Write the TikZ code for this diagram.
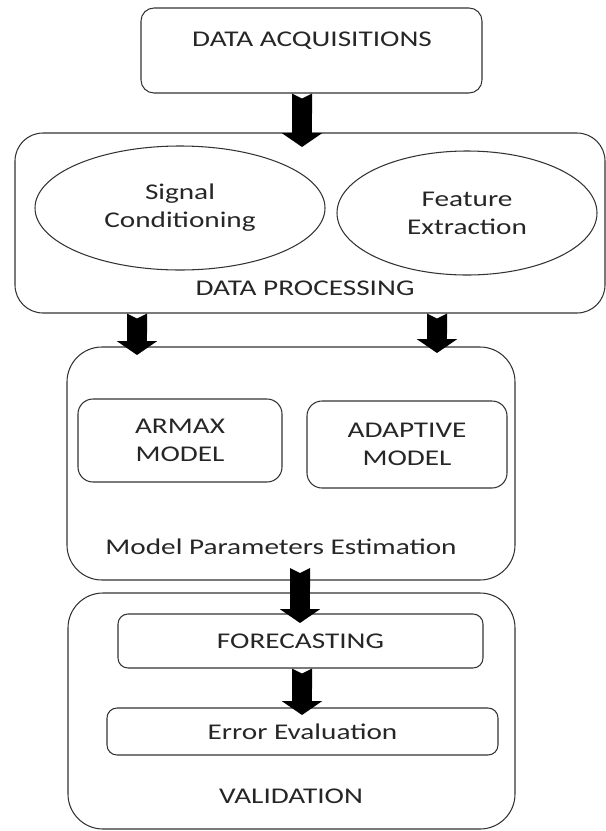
\documentclass[tikz,border=0pt]{standalone}
\usepackage{fontspec}
\setmainfont{Carlito}[FakeStretch=1.3]
\usepackage{tikz}
\usetikzlibrary{shapes.geometric}
\usetikzlibrary{arrows.meta}
\tikzset{block/.style={draw=black!80, line width=0.6pt, rounded corners=#1, inner sep=0pt}, block/.default={0.26cm}}
\tikzset{oval/.style={draw=black!80, line width=0.6pt, ellipse, inner sep=0pt}}
\tikzset{lbl/.style={text=black!85, align=center, font=\fontsize{12.8}{16}\selectfont}}
\tikzset{bigarrow/.style={line width=0.4cm, {Triangle Cap[reversed,length=0.1cm]}-{Triangle[width=0.8cm,length=0.28cm]}}}

\begin{document}
\begin{tikzpicture}
                \useasboundingbox (0,0) rectangle (12.12,-16.62);
                % acquisition
                \node[block, lbl, minimum width=6.82cm, minimum height=1.70cm] (acq) at (6.23,-1.01) {};
                \node[lbl] (acqtxt) at (6.24,-0.82) {DATA ACQUISITIONS};
                % processing
                \node[block=0.56cm, minimum width=11.80cm, minimum height=3.60cm] (proc) at (6.20,-4.46) {};
                \node[oval, lbl, minimum width=5.80cm, minimum height=2.48cm] (sig) at (3.60,-4.16) {Signal\\Conditioning};
                \node[oval, lbl, minimum width=5.20cm, minimum height=2.48cm] (feat) at (9.34,-4.26) {Feature\\Extraction};
                \node[lbl] (proctxt) at (6.10,-5.76) {DATA PROCESSING};
                % models
                \node[block=0.7cm, minimum width=8.96cm, minimum height=4.66cm] (model) at (5.82,-9.27) {};
                \node[block=0.3cm, lbl, minimum width=4.08cm, minimum height=1.66cm] (armax) at (3.60,-8.81) {ARMAX\\MODEL};
                \node[block=0.3cm, lbl, minimum width=4.00cm, minimum height=1.74cm] (adapt) at (8.14,-8.89) {ADAPTIVE\\MODEL};
                \node[lbl] (modeltxt) at (5.62,-10.94) {Model Parameters Estimation};
                % validation
                \node[block=0.7cm, minimum width=8.94cm, minimum height=4.72cm] (valid) at (5.83,-14.22) {};
                \node[block=0.2cm, lbl, minimum width=7.30cm, minimum height=1.08cm] (fore) at (6.01,-12.82) {FORECASTING};
                \node[block=0.2cm, lbl, minimum width=7.82cm, minimum height=0.94cm] (err) at (6.05,-14.63) {Error Evaluation};
                \node[lbl] (validtxt) at (5.82,-15.92) {VALIDATION};

                \coordinate (t1) at (6.04,-2.94);
                \coordinate (t2) at (2.74,-7.10);
                \coordinate (t3) at (8.74,-7.06);
                \coordinate (s4) at (6.00,-11.36);
                \coordinate (t4) at (6.00,-12.46);
                \coordinate (t5) at (6.04,-14.30);
                \draw[bigarrow] (acq.south -| t1) -- (t1);
                \draw[bigarrow] (proc.south -| t2) -- (t2);
                \draw[bigarrow] (proc.south -| t3) -- (t3);
                \draw[bigarrow] (s4) -- (t4);
                \draw[bigarrow] (fore.south -| t5) -- (t5);
\end{tikzpicture}
\end{document}
